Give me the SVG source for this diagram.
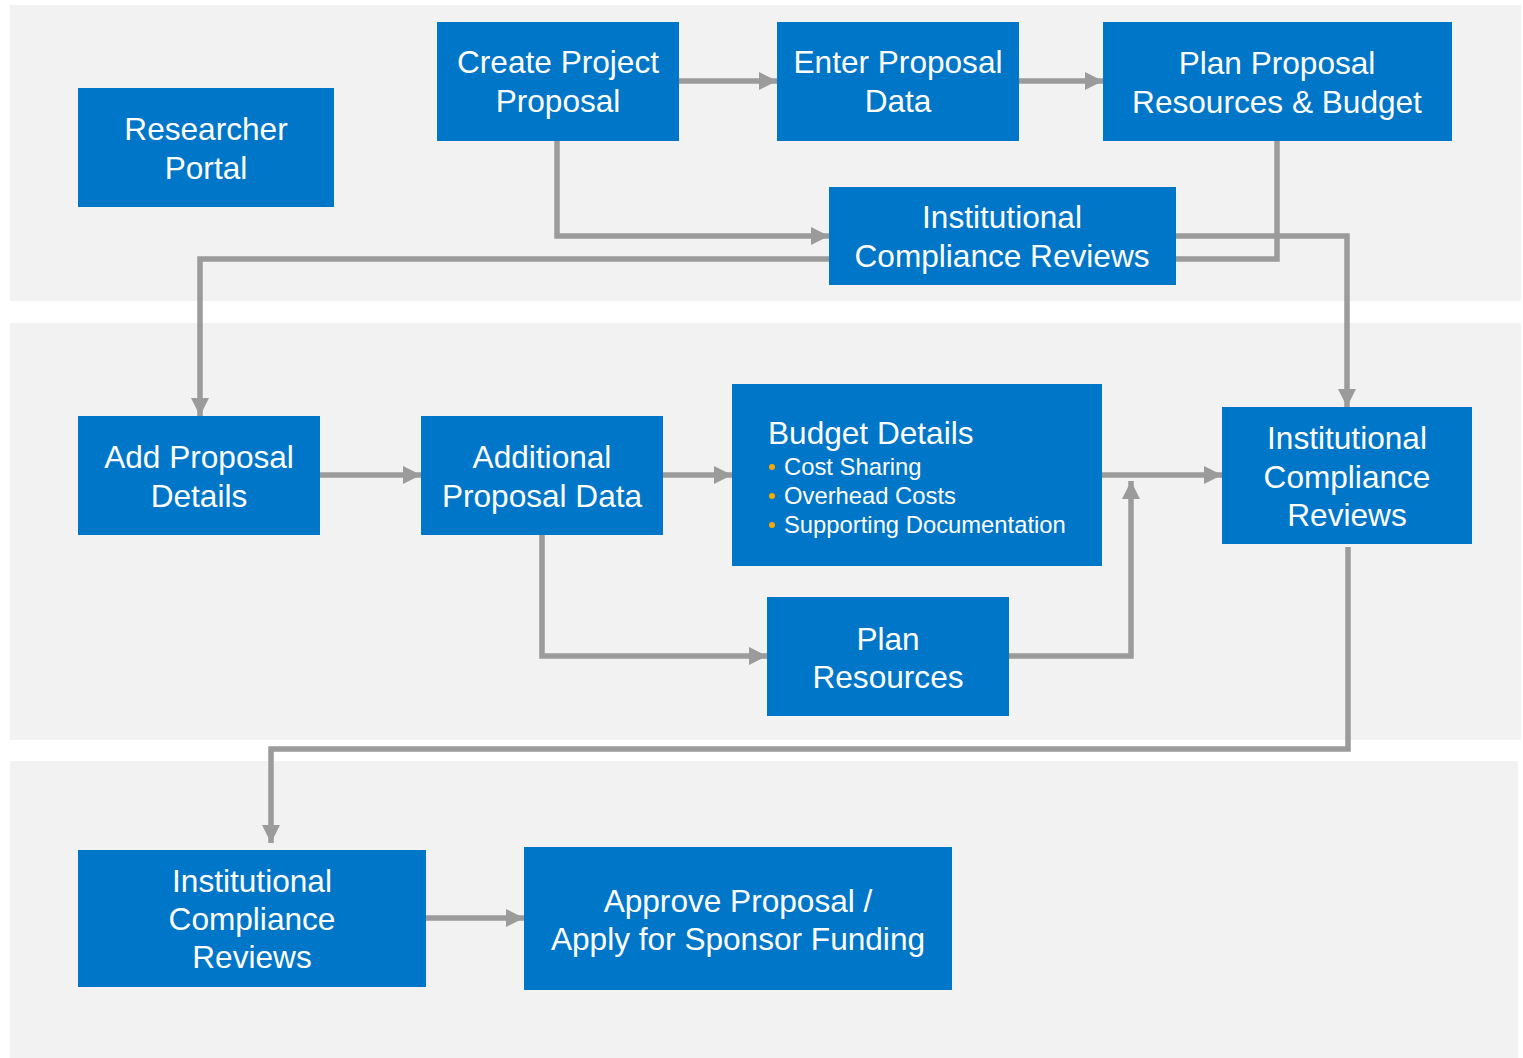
<svg xmlns="http://www.w3.org/2000/svg" width="1523" height="1058" viewBox="0 0 1523 1058">
<defs>
<style>
.band{fill:#f2f2f2}
.box{fill:#0076c9}
.t{font-family:"Liberation Sans",Arial,sans-serif;font-size:31.6px;fill:#ffffff;text-anchor:middle}
.tl{font-family:"Liberation Sans",Arial,sans-serif;font-size:31.6px;fill:#ffffff}
.b{font-family:"Liberation Sans",Arial,sans-serif;font-size:23.8px;fill:#ffffff}
.dot{fill:#f5a800}
.c{fill:none;stroke:#9b9b9b;stroke-width:5.5}
</style>
<marker id="ah" viewBox="0 0 18 18" refX="18" refY="9" markerWidth="18" markerHeight="18" markerUnits="userSpaceOnUse" orient="auto">
<path d="M0,0 L18,9 L0,18 Z" fill="#9b9b9b"/>
</marker>
</defs>
<rect width="1523" height="1058" fill="#ffffff"/>
<g id="bands">
<rect class="band" x="10" y="5" width="1511" height="296"/>
<rect class="band" x="10" y="323" width="1511" height="417"/>
<rect class="band" x="10" y="761" width="1508" height="297"/>
</g>
<g id="connectors">
<path class="c" d="M678,81 H777" marker-end="url(#ah)"/>
<path class="c" d="M1018,81 H1103" marker-end="url(#ah)"/>
<path class="c" d="M557,140 V236 H829" marker-end="url(#ah)"/>
<path class="c" d="M1277,140 V259 H1175"/>
<path class="c" d="M1175,236 H1347 V407" marker-end="url(#ah)"/>
<path class="c" d="M829,259 H200 V416" marker-end="url(#ah)"/>
<path class="c" d="M319,475 H421" marker-end="url(#ah)"/>
<path class="c" d="M662,475 H732" marker-end="url(#ah)"/>
<path class="c" d="M1101,475 H1222" marker-end="url(#ah)"/>
<path class="c" d="M542,534 V656 H767" marker-end="url(#ah)"/>
<path class="c" d="M1008,656 H1131 V481" marker-end="url(#ah)"/>
<path class="c" d="M1348,547 V749 H271 V843" marker-end="url(#ah)"/>
<path class="c" d="M425,918 H524" marker-end="url(#ah)"/>
</g>
<g id="researcher-portal">
<rect class="box" x="78" y="88" width="256" height="119"/>
<text class="t" x="206" y="140">Researcher</text>
<text class="t" x="206" y="179">Portal</text>
</g>
<g id="create-project-proposal">
<rect class="box" x="437" y="22" width="242" height="119"/>
<text class="t" x="558" y="73">Create Project</text>
<text class="t" x="558" y="112">Proposal</text>
</g>
<g id="enter-proposal-data">
<rect class="box" x="777" y="22" width="242" height="119"/>
<text class="t" x="898" y="73">Enter Proposal</text>
<text class="t" x="898" y="112">Data</text>
</g>
<g id="plan-proposal-resources-budget">
<rect class="box" x="1103" y="22" width="349" height="119"/>
<text class="t" x="1277" y="74">Plan Proposal</text>
<text class="t" x="1277" y="113">Resources &amp; Budget</text>
</g>
<g id="icr-top">
<rect class="box" x="829" y="187" width="347" height="98"/>
<text class="t" x="1002" y="228">Institutional</text>
<text class="t" x="1002" y="267">Compliance Reviews</text>
</g>
<g id="add-proposal-details">
<rect class="box" x="78" y="416" width="242" height="119"/>
<text class="t" x="199" y="468">Add Proposal</text>
<text class="t" x="199" y="507">Details</text>
</g>
<g id="additional-proposal-data">
<rect class="box" x="421" y="416" width="242" height="119"/>
<text class="t" x="542" y="468">Additional</text>
<text class="t" x="542" y="507">Proposal Data</text>
</g>
<g id="budget-details">
<rect class="box" x="732" y="384" width="370" height="182"/>
<text class="tl" x="768" y="444">Budget Details</text>
<circle class="dot" cx="772" cy="467" r="3"/>
<text class="b" x="784" y="475">Cost Sharing</text>
<circle class="dot" cx="772" cy="496" r="3"/>
<text class="b" x="784" y="504">Overhead Costs</text>
<circle class="dot" cx="772" cy="525" r="3"/>
<text class="b" x="784" y="533">Supporting Documentation</text>
</g>
<g id="icr-middle">
<rect class="box" x="1222" y="407" width="250" height="137"/>
<text class="t" x="1347" y="449">Institutional</text>
<text class="t" x="1347" y="488">Compliance</text>
<text class="t" x="1347" y="526">Reviews</text>
</g>
<g id="plan-resources">
<rect class="box" x="767" y="597" width="242" height="119"/>
<text class="t" x="888" y="650">Plan</text>
<text class="t" x="888" y="688">Resources</text>
</g>
<g id="icr-bottom">
<rect class="box" x="78" y="850" width="348" height="137"/>
<text class="t" x="252" y="892">Institutional</text>
<text class="t" x="252" y="930">Compliance</text>
<text class="t" x="252" y="968">Reviews</text>
</g>
<g id="approve-proposal">
<rect class="box" x="524" y="847" width="428" height="143"/>
<text class="t" x="738" y="912">Approve Proposal /</text>
<text class="t" x="738" y="950">Apply for Sponsor Funding</text>
</g>
</svg>
